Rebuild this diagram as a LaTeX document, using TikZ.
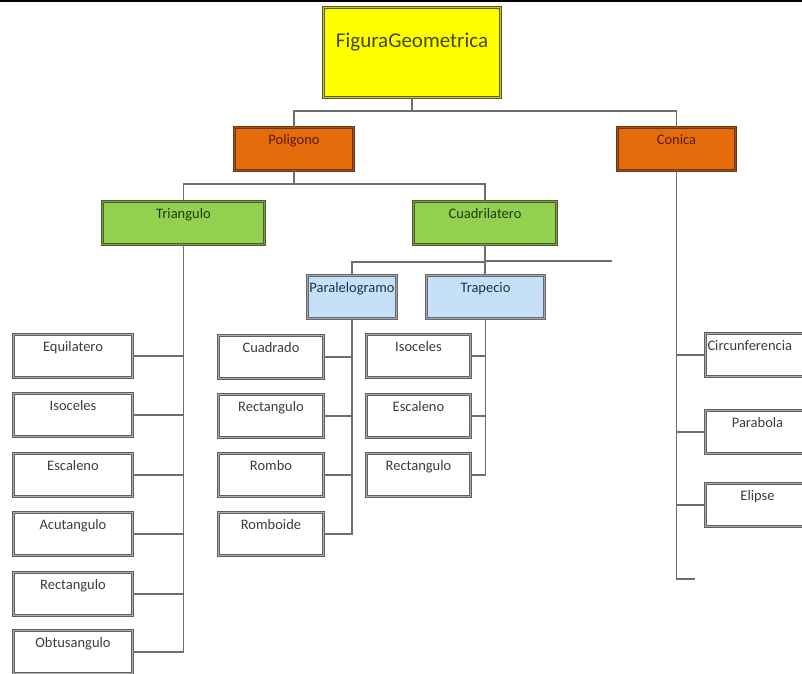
\documentclass[tikz,border=0pt]{standalone}
\usepackage{fontspec}
\setmainfont{Carlito}
\definecolor{figfill}{RGB}{255,255,0}
\definecolor{figline}{RGB}{90,90,20}
\definecolor{figmid}{RGB}{200,200,60}
\definecolor{figtext}{RGB}{70,70,10}
\definecolor{orafill}{RGB}{228,108,10}
\definecolor{oraline}{RGB}{105,55,20}
\definecolor{oramid}{RGB}{170,80,20}
\definecolor{oratext}{RGB}{90,25,10}
\definecolor{grefill}{RGB}{146,208,80}
\definecolor{greline}{RGB}{75,95,45}
\definecolor{gremid}{RGB}{120,160,70}
\definecolor{gretext}{RGB}{30,60,15}
\definecolor{blufill}{RGB}{198,224,248}
\definecolor{bluline}{RGB}{105,105,110}
\definecolor{blumid}{RGB}{160,165,175}
\definecolor{blutext}{RGB}{30,50,80}
\definecolor{leafline}{RGB}{95,95,95}
\definecolor{leafmid}{RGB}{175,175,175}
\definecolor{leaftext}{RGB}{60,60,60}
\definecolor{wire}{RGB}{110,110,110}
\begin{document}
\begin{tikzpicture}[x=1pt,y=-1pt,
  box/.style={rectangle, anchor=north west, inner xsep=0pt, inner ysep=3pt,
    align=center, line width=1pt, double distance=1.3pt,
    text height=14pt, text depth=23pt, minimum height=43pt,
    font=\fontsize{14.5}{17}\selectfont},
  figbox/.style={box, fill=figfill, draw=figline, double=figmid, text=figtext,
    text height=37pt, text depth=47pt, minimum height=90pt,
    font=\fontsize{21}{25}\selectfont},
  orabox/.style={box, fill=orafill, draw=oraline, double=oramid, text=oratext},
  grebox/.style={box, fill=grefill, draw=greline, double=gremid, text=gretext},
  blubox/.style={box, fill=blufill, draw=bluline, double=blumid, text=blutext},
  leaf/.style={box, fill=white, draw=leafline, double=leafmid, text=leaftext},
  wire/.style={draw=wire, line width=1.6pt}]
\useasboundingbox (0,0) rectangle (802,673);
% frame line along the top edge
\draw[line width=2pt, black] (0,1) -- (802,1);

% root and first level
\node[figbox, text width=177pt] (fig) at (323,7) {FiguraGeometrica};
\node[orabox, text width=119pt] (pol) at (234,127) {Poligono};
\node[orabox, text width=118pt] (con) at (617,127) {Conica};

% second level
\node[grebox, text width=162pt] (tri) at (102,201) {Triangulo};
\node[grebox, text width=143pt] (cua) at (413,201) {Cuadrilatero};

% third level
\node[blubox, text width=89pt] (par) at (307,275) {Paralelogramo};
\node[blubox, text width=118pt] (tra) at (426,275) {Trapecio};

% triangle kinds
\node[leaf, text width=119pt] (t1) at (13,334) {Equilatero};
\node[leaf, text width=119pt] (t2) at (13,393) {Isoceles};
\node[leaf, text width=119pt] (t3) at (13,453) {Escaleno};
\node[leaf, text width=119pt] (t4) at (13,512) {Acutangulo};
\node[leaf, text width=119pt] (t5) at (13,572) {Rectangulo};
\node[leaf, text width=119pt] (t6) at (13,630) {Obtusangulo};

% parallelogram kinds
\node[leaf, text width=105pt] (p1) at (218,335) {Cuadrado};
\node[leaf, text width=105pt] (p2) at (218,394) {Rectangulo};
\node[leaf, text width=105pt] (p3) at (218,453) {Rombo};
\node[leaf, text width=105pt] (p4) at (218,512) {Romboide};

% trapezoid kinds
\node[leaf, text width=104pt] (r1) at (366,334) {Isoceles};
\node[leaf, text width=104pt] (r2) at (366,394) {Escaleno};
\node[leaf, text width=104pt] (r3) at (366,453) {Rectangulo};

% conic kinds
\node[leaf, text width=100pt, inner xsep=2pt, align=left] (c1) at (705,333) {Circunferencia};
\node[leaf, text width=104pt] (c2) at (705,410) {Parabola};
\node[leaf, text width=104pt] (c3) at (705,483) {Elipse};

% free ends of open branches
\coordinate (cuaend) at (612,261);
\coordinate (conend) at (695,579);

% connectors
\draw[wire] (fig.south) -- ++(0,13) -| (pol.north);
\draw[wire] (fig.south) -- ++(0,13) -| (con.north);
\draw[wire] (pol.south) -- ++(0,13) -| (tri.north);
\draw[wire] (pol.south) -- ++(0,13) -| (cua.north);
\draw[wire] (cua.south) -- ++(0,17) -| (par.north);
\draw[wire] (cua.south) |- (cuaend);
\draw[wire] (cua.south) -- (cua.south |- tra.north);

\foreach \n in {t1,t2,t3,t4,t5,t6} \draw[wire] (tri.south) |- (\n.east);
\foreach \n in {p1,p2,p3,p4} \draw[wire] (par.south) |- (\n.east);
\foreach \n in {r1,r2,r3} \draw[wire] (tra.south) |- (\n.east);
\foreach \n in {c1,c2,c3} \draw[wire] (con.south) |- (\n.west);
\draw[wire] (con.south) |- (conend);
\end{tikzpicture}
\end{document}
